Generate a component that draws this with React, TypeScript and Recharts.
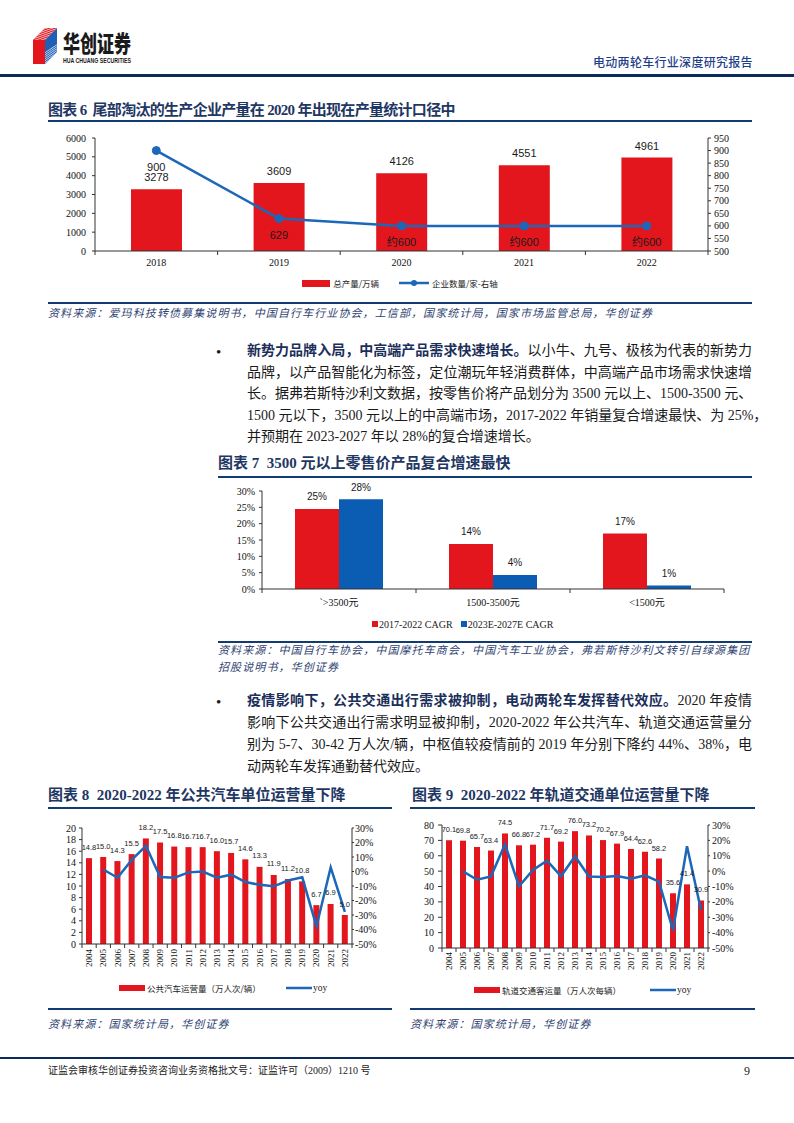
import React from 'react';
import { ComposedChart, BarChart, Bar, Line, XAxis, YAxis, Legend, LabelList } from 'recharts';

const CJK = '"Noto Sans CJK SC", sans-serif';
const SERIF = '"Liberation Serif", "Noto Sans CJK SC", serif';
const SANS = '"Liberation Sans", "Noto Sans CJK SC", sans-serif';
const NAVY = '#123a73';
const TITLE = '#1f3763';
const RED = '#e3161e';
const BLUE = '#1d67b8';
const BLUE7 = '#0b5db3';
const AXIS = '#333333';
const SRC = '#2f4372';

// ===== 图表6 =====
const years6 = ['2018', '2019', '2020', '2021', '2022'];
const output6 = [3278, 3609, 4126, 4551, 4961];
const firms6 = [900, 629, 600, 600, 600];
const firmLabels6 = ['900', '629', '约600', '约600', '约600'];
const leftTicks6 = [0, 1000, 2000, 3000, 4000, 5000, 6000];
const rightTicks6 = [500, 550, 600, 650, 700, 750, 800, 850, 900, 950];

// ===== 图表7 =====
const segments7 = ['`>3500元', '1500-3500元', '<1500元'];
const cagrPast7 = [24.5, 13.8, 17.0];
const cagrFuture7 = [27.5, 4.3, 1.1];
const ticks7 = [0, 5, 10, 15, 20, 25, 30];

// ===== 图表8 / 图表9 =====
const years = ['2004', '2005', '2006', '2007', '2008', '2009', '2010', '2011', '2012', '2013', '2014', '2015', '2016', '2017', '2018', '2019', '2020', '2021', '2022'];
const bus8 = [14.8, 15.0, 14.3, 15.5, 18.2, 17.5, 16.8, 16.7, 16.7, 16.0, 15.7, 14.6, 13.3, 11.9, 11.2, 10.8, 6.7, 6.9, 5.0];
const busYoy8 = [null, 1.4, -4.3, 8.0, 17.6, -3.8, -4.3, -0.6, 0.0, -4.3, -2.2, -7.3, -9.2, -10.2, -6.2, -4.0, -37.9, 2.8, -27.8];
const leftTicks8 = [0, 2, 4, 6, 8, 10, 12, 14, 16, 18, 20];
const rail9 = [70.1, 69.8, 65.7, 63.4, 74.5, 66.8, 67.2, 71.7, 69.2, 76.0, 73.2, 70.2, 67.9, 64.4, 62.6, 58.2, 35.6, 41.4, 30.9];
const railYoy9 = [null, -0.2, -5.6, -3.4, 17.5, -9.8, 0.8, 6.8, -3.3, 9.7, -3.5, -3.9, -3.2, -4.9, -2.7, -6.8, -38.6, 16.2, -25.2];
const leftTicks9 = [0, 10, 20, 30, 40, 50, 60, 70, 80];
const pctTicks = [-50, -40, -30, -20, -10, 0, 10, 20, 30];

const data6 = years6.map((y, i) => ({ year: y, output: output6[i], firms: firms6[i], firmLabel: firmLabels6[i] }));
const data7 = segments7.map((s, i) => ({ seg: s, past: cagrPast7[i], future: cagrFuture7[i] }));
const data8 = years.map((y, i) => ({ year: y, v: bus8[i], yoy: busYoy8[i] }));
const data9 = years.map((y, i) => ({ year: y, v: rail9[i], yoy: railYoy9[i] }));

function box(p: any) {
  const vb = p.viewBox || {};
  const x = typeof p.x === 'number' ? p.x : vb.x;
  const y = typeof p.y === 'number' ? p.y : vb.y;
  const w = typeof p.width === 'number' ? p.width : (typeof vb.width === 'number' ? vb.width : 0);
  return { x, y, w };
}

const makeLabel = (dy: number, size: number, fmt: (v: any) => string, family = SANS) => (p: any) => {
  const { x, y, w } = box(p);
  if (x == null || y == null) return null;
  return (
    <text x={x + w / 2} y={y + dy} textAnchor="middle" dominantBaseline="central" fontSize={size} fontFamily={family} fill="#1a1a1a">
      {fmt(p.value)}
    </text>
  );
};

const BandTick = (fallbackBw: number, offset: number, size: number, rotate: boolean) => (p: any) => {
  const { x, y, payload, index } = p;
  const n = p.visibleTicksCount || 1;
  const bw = typeof p.width === 'number' && p.width > 0 ? p.width / n : fallbackBw;
  return (
    <g>
      {bw > 0 && <line x1={x - bw / 2} x2={x - bw / 2} y1={y} y2={y + 4} stroke={AXIS} />}
      {bw > 0 && index === n - 1 && <line x1={x + bw / 2} x2={x + bw / 2} y1={y} y2={y + 4} stroke={AXIS} />}
      {rotate ? (
        <text x={x} y={y + offset} transform={`rotate(-90 ${x} ${y + offset})`} textAnchor="end" dominantBaseline="central" fontSize={size} fontFamily={SERIF} fill="#111">
          {payload.value}
        </text>
      ) : (
        <text x={x} y={y + offset} textAnchor="middle" dominantBaseline="central" fontSize={size} fontFamily={SERIF} fill="#111">
          {payload.value}
        </text>
      )}
    </g>
  );
};

const Legend6 = () => (
  <div style={{ display: 'flex', justifyContent: 'center', alignItems: 'center', height: 20, fontFamily: CJK, fontSize: 8.5, color: '#222' }}>
    <span style={{ display: 'inline-block', width: 28, height: 7, background: RED }} />
    <span style={{ marginLeft: 3 }}>总产量/万辆</span>
    <svg width={30} height={10} style={{ marginLeft: 20 }}>
      <line x1={0} y1={5} x2={30} y2={5} stroke={BLUE} strokeWidth={2.5} />
      <circle cx={15} cy={5} r={3} fill={BLUE} />
    </svg>
    <span style={{ marginLeft: 3 }}>企业数量/家-右轴</span>
  </div>
);

const Legend7 = () => (
  <div style={{ display: 'flex', alignItems: 'center', height: 26, paddingLeft: 154, fontFamily: SERIF, fontSize: 10, color: '#222' }}>
    <span style={{ display: 'inline-block', width: 6, height: 6, background: RED }} />
    <span style={{ marginLeft: 1 }}>2017-2022 CAGR</span>
    <span style={{ display: 'inline-block', width: 6, height: 6, background: BLUE7, marginLeft: 8 }} />
    <span style={{ marginLeft: 1 }}>2023E-2027E CAGR</span>
  </div>
);

const LegendBar = (pad: number, text: string, gap: number, textW: number) => () => (
  <div style={{ display: 'flex', alignItems: 'center', height: 20, paddingLeft: pad, color: '#222' }}>
    <span style={{ display: 'inline-block', width: 26, height: 6, background: RED }} />
    <span style={{ marginLeft: 2, fontFamily: CJK, fontSize: 8.5, width: textW, whiteSpace: 'nowrap' }}>{text}</span>
    <svg width={26} height={8} style={{ marginLeft: gap }}>
      <line x1={0} y1={4} x2={26} y2={4} stroke={BLUE} strokeWidth={2.5} />
    </svg>
    <span style={{ marginLeft: 1, fontFamily: SERIF, fontSize: 9.5 }}>yoy</span>
  </div>
);

const Txt = ({ x, y, h = 20, style, children }: any) => (
  <div style={{ position: 'absolute', left: x, top: y - h / 2, height: h, lineHeight: `${h}px`, whiteSpace: 'nowrap', ...style }}>{children}</div>
);

const Rule = ({ x, y, w, h = 2.5, color = NAVY }: any) => (
  <div style={{ position: 'absolute', left: x, top: y - h / 2, width: w, height: h, background: color }} />
);

const Title = ({ x, y, ls = 0, children }: any) => (
  <Txt x={x} y={y} style={{ fontSize: 15, fontWeight: 700, fontFamily: SERIF, color: TITLE, letterSpacing: ls }}>{children}</Txt>
);

const Source = ({ x, y, children }: any) => (
  <Txt x={x} y={y} h={17} style={{ fontSize: 11, fontStyle: 'italic', fontFamily: SERIF, color: SRC, letterSpacing: 1.1 }}>{children}</Txt>
);

const Body = ({ y, last, children }: any) => (
  <div style={{ position: 'absolute', left: 247, top: y - 11, width: 505, height: 22, lineHeight: '22px', fontSize: 14, fontFamily: SERIF, color: '#1a1a1a', whiteSpace: 'nowrap', textAlign: last ? 'left' : 'justify', textAlignLast: last ? 'left' : 'justify' } as any}>
    {children}
  </div>
);

const B = ({ children }: any) => <span style={{ fontWeight: 700, color: '#1b2f5a' }}>{children}</span>;

const Bullet = ({ y }: any) => (
  <Txt x={216} y={y} style={{ fontSize: 15, fontFamily: SERIF, color: '#1a1a1a' }}>•</Txt>
);

const Logo = () => (
  <svg style={{ position: 'absolute', left: 30, top: 24, overflow: 'visible' }} width={120} height={48}>
    <defs>
      <clipPath id="topR"><polygon points="3,16 15,4 27,4 15,16" /></clipPath>
      <clipPath id="botB"><polygon points="15,28 27,16 27,28 15,40" /></clipPath>
    </defs>
    <polygon points="3,16 15,16 15,40 3,40" fill={RED} />
    <polygon points="3,16 15,4 27,4 15,16" fill={RED} />
    <g clipPath="url(#topR)">
      {[0, 1, 2, 3, 4, 5, 6, 7, 8].map((k) => (
        <line key={k} x1={0} y1={6 + k * 2} x2={40} y2={6 + k * 2 - 14} stroke="#fff" strokeWidth={0.7} />
      ))}
    </g>
    <polygon points="15,16 27,4 27,28 15,40" fill="#1f5fb5" />
    <g clipPath="url(#botB)">
      {[0, 1, 2, 3, 4, 5, 6, 7, 8].map((k) => (
        <line key={k} x1={10} y1={32 + k * 2} x2={40} y2={32 + k * 2 - 20} stroke="#fff" strokeWidth={0.7} />
      ))}
    </g>
    <text x={33} y={28} fontSize={23} fontWeight={900} fontFamily={CJK} fill="#1a1a1a" textLength={68} lengthAdjust="spacingAndGlyphs">华创证券</text>
    <text x={33} y={39} fontSize={7} fontWeight={700} fontFamily={SANS} fill="#1a1a1a" textLength={68} lengthAdjust="spacingAndGlyphs">HUA CHUANG SECURITIES</text>
  </svg>
);

const axisTick = (size = 10) => ({ fontSize: size, fontFamily: SERIF, fill: '#111' });

export default function App() {
  return (
    <div style={{ position: 'absolute', left: 0, top: 0, width: 794, height: 1123, background: '#fff', overflow: 'hidden' }}>
      <Logo />
      <Txt x={593} y={62} style={{ fontSize: 12, fontFamily: CJK, color: '#1f3f8a', fontWeight: 500, letterSpacing: 0.3 }}>电动两轮车行业深度研究报告</Txt>
      <Rule x={0} y={75} w={794} h={3} color="#0d2b5a" />

      {/* 图表6 */}
      <Title x={48} y={110} ls={-0.7}>图表 6&nbsp;&nbsp;尾部淘汰的生产企业产量在 2020 年出现在产量统计口径中</Title>
      <Rule x={48} y={121} w={704} />
      <div style={{ position: 'absolute', left: 50, top: 130 }}>
        <ComposedChart width={700} height={163} data={data6} margin={{ top: 8, right: 0, bottom: 0, left: 0 }}>
          <XAxis dataKey="year" height={22} axisLine={{ stroke: AXIS }} tickLine={false} tickSize={0} tickMargin={0} interval={0} tick={BandTick(0, 11, 10, false)} />
          <YAxis yAxisId="l" domain={[0, 6000]} ticks={leftTicks6} interval={0} width={45} axisLine={{ stroke: AXIS }} tickLine={{ stroke: AXIS }} tickSize={3} tickMargin={6} tick={axisTick(10)} />
          <YAxis yAxisId="r" orientation="right" domain={[500, 950]} ticks={rightTicks6} interval={0} width={42} axisLine={{ stroke: AXIS }} tickLine={{ stroke: AXIS }} tickSize={3} tickMargin={3} tick={axisTick(10)} />
          <Legend verticalAlign="bottom" height={20} wrapperStyle={{ left: 0, width: 700 }} content={Legend6 as any} />
          <Bar yAxisId="l" dataKey="output" fill={RED} barSize={51} isAnimationActive={false}>
            <LabelList dataKey="output" content={makeLabel(-12, 11, (v) => String(v))} />
          </Bar>
          <Line yAxisId="r" dataKey="firms" stroke={BLUE} strokeWidth={2.5} dot={{ r: 4, fill: BLUE, stroke: BLUE, strokeWidth: 1 }} isAnimationActive={false}>
            <LabelList dataKey="firmLabel" content={makeLabel(16, 11, (v) => String(v))} />
          </Line>
        </ComposedChart>
      </div>
      <Rule x={48} y={303} w={704} />
      <Source x={48} y={313}>资料来源：爱玛科技转债募集说明书，中国自行车行业协会，工信部，国家统计局，国家市场监管总局，华创证券</Source>

      {/* 段落1 */}
      <Bullet y={352} />
      <Body y={351}><B>新势力品牌入局，中高端产品需求快速增长。</B>以小牛、九号、极核为代表的新势力</Body>
      <Body y={372.5}>品牌，以产品智能化为标签，定位潮玩年轻消费群体，中高端产品市场需求快速增</Body>
      <Body y={394}>长。据弗若斯特沙利文数据，按零售价将产品划分为 3500 元以上、1500-3500 元、</Body>
      <Body y={415.5}>1500 元以下，3500 元以上的中高端市场，2017-2022 年销量复合增速最快、为 25%，</Body>
      <Body y={437} last>并预期在 2023-2027 年以 28%的复合增速增长。</Body>

      {/* 图表7 */}
      <Title x={218} y={463}>图表 7&nbsp;&nbsp;3500 元以上零售价产品复合增速最快</Title>
      <Rule x={218} y={477} w={534} />
      <div style={{ position: 'absolute', left: 218, top: 477 }}>
        <BarChart width={534} height={160} data={data7} margin={{ top: 14, right: 28, bottom: 0, left: 0 }} barGap={0}>
          <XAxis dataKey="seg" height={22} axisLine={{ stroke: AXIS }} tickLine={false} tickSize={0} tickMargin={0} interval={0} tick={BandTick(0, 13, 10, false)} />
          <YAxis domain={[0, 30]} ticks={ticks7} interval={0} width={44} axisLine={{ stroke: AXIS }} tickLine={{ stroke: AXIS }} tickSize={3} tickMargin={4} tick={axisTick(10)} tickFormatter={(v: number) => `${v}%`} />
          <Legend verticalAlign="bottom" height={26} wrapperStyle={{ left: 0, width: 534 }} content={Legend7 as any} />
          <Bar dataKey="past" fill={RED} barSize={44} isAnimationActive={false}>
            <LabelList dataKey="past" content={makeLabel(-12, 10, (v) => `${Math.round(v)}%`)} />
          </Bar>
          <Bar dataKey="future" fill={BLUE7} barSize={44} isAnimationActive={false}>
            <LabelList dataKey="future" content={makeLabel(-12, 10, (v) => `${Math.round(v)}%`)} />
          </Bar>
        </BarChart>
      </div>
      <Rule x={218} y={642} w={534} />
      <Source x={218} y={650}>资料来源：中国自行车协会，中国摩托车商会，中国汽车工业协会，弗若斯特沙利文转引自绿源集团</Source>
      <Source x={218} y={667}>招股说明书，华创证券</Source>

      {/* 段落2 */}
      <Bullet y={702} />
      <Body y={701}><B>疫情影响下，公共交通出行需求被抑制，电动两轮车发挥替代效应。</B>2020 年疫情</Body>
      <Body y={723}>影响下公共交通出行需求明显被抑制，2020-2022 年公共汽车、轨道交通运营量分</Body>
      <Body y={745}>别为 5-7、30-42 万人次/辆，中枢值较疫情前的 2019 年分别下降约 44%、38%，电</Body>
      <Body y={767} last>动两轮车发挥通勤替代效应。</Body>

      {/* 图表8 */}
      <Title x={48} y={795}>图表 8&nbsp;&nbsp;2020-2022 年公共汽车单位运营量下降</Title>
      <Rule x={48} y={808} w={344} />
      <div style={{ position: 'absolute', left: 48, top: 808 }}>
        <ComposedChart width={344} height={190} data={data8} margin={{ top: 20, right: 0, bottom: 0, left: 0 }}>
          <XAxis dataKey="year" height={34} axisLine={{ stroke: AXIS }} tickLine={false} tickSize={0} tickMargin={0} interval={0} tick={BandTick(270 / 19, 5, 9, true)} />
          <YAxis yAxisId="l" domain={[0, 20]} ticks={leftTicks8} interval={0} width={34} axisLine={{ stroke: AXIS }} tickLine={{ stroke: AXIS }} tickSize={3} tickMargin={3} tick={axisTick(10)} />
          <YAxis yAxisId="r" orientation="right" domain={[-50, 30]} ticks={pctTicks} interval={0} width={40} axisLine={{ stroke: AXIS }} tickLine={{ stroke: AXIS }} tickSize={2} tickMargin={1} tick={axisTick(10)} tickFormatter={(v: number) => `${v}%`} />
          <Legend verticalAlign="bottom" height={20} wrapperStyle={{ left: 0, width: 344 }} content={LegendBar(71, '公共汽车运营量（万人次/辆）', 20, 119) as any} />
          <Bar yAxisId="l" dataKey="v" fill={RED} barSize={6} isAnimationActive={false}>
            <LabelList dataKey="v" content={makeLabel(-11, 7.5, (v) => Number(v).toFixed(1))} />
          </Bar>
          <Line yAxisId="r" dataKey="yoy" stroke={BLUE} strokeWidth={2.5} dot={false} isAnimationActive={false} connectNulls={false} />
        </ComposedChart>
      </div>
      <Rule x={48} y={1009} w={344} />
      <Source x={48} y={1024}>资料来源：国家统计局，华创证券</Source>

      {/* 图表9 */}
      <Title x={412} y={795}>图表 9&nbsp;&nbsp;2020-2022 年轨道交通单位运营量下降</Title>
      <Rule x={410} y={808} w={345} />
      <div style={{ position: 'absolute', left: 410, top: 808 }}>
        <ComposedChart width={345} height={192} data={data9} margin={{ top: 17, right: 0, bottom: 0, left: 0 }}>
          <XAxis dataKey="year" height={32} axisLine={{ stroke: AXIS }} tickLine={false} tickSize={0} tickMargin={0} interval={0} tick={BandTick(266 / 19, 4, 9, true)} />
          <YAxis yAxisId="l" domain={[0, 80]} ticks={leftTicks9} interval={0} width={32} axisLine={{ stroke: AXIS }} tickLine={{ stroke: AXIS }} tickSize={4} tickMargin={4} tick={axisTick(10)} />
          <YAxis yAxisId="r" orientation="right" domain={[-50, 30]} ticks={pctTicks} interval={0} width={47} axisLine={{ stroke: AXIS }} tickLine={{ stroke: AXIS }} tickSize={2} tickMargin={2} tick={axisTick(10)} tickFormatter={(v: number) => `${v}%`} />
          <Legend verticalAlign="bottom" height={20} wrapperStyle={{ left: 0, width: 345 }} content={LegendBar(64, '轨道交通客运量（万人次每辆）', 20, 128) as any} />
          <Bar yAxisId="l" dataKey="v" fill={RED} barSize={6} isAnimationActive={false}>
            <LabelList dataKey="v" content={makeLabel(-10.5, 7.5, (v) => Number(v).toFixed(1))} />
          </Bar>
          <Line yAxisId="r" dataKey="yoy" stroke={BLUE} strokeWidth={2.5} dot={false} isAnimationActive={false} connectNulls={false} />
        </ComposedChart>
      </div>
      <Rule x={410} y={1009} w={345} />
      <Source x={410} y={1024}>资料来源：国家统计局，华创证券</Source>

      {/* 页脚 */}
      <Rule x={0} y={1058} w={794} h={2} color="#0d2b5a" />
      <Txt x={48} y={1071} style={{ fontSize: 10, fontFamily: SERIF, color: '#222' }}>证监会审核华创证券投资咨询业务资格批文号：证监许可（2009）1210 号</Txt>
      <Txt x={744} y={1071} style={{ fontSize: 12, fontFamily: SERIF, color: '#222' }}>9</Txt>
    </div>
  );
}
